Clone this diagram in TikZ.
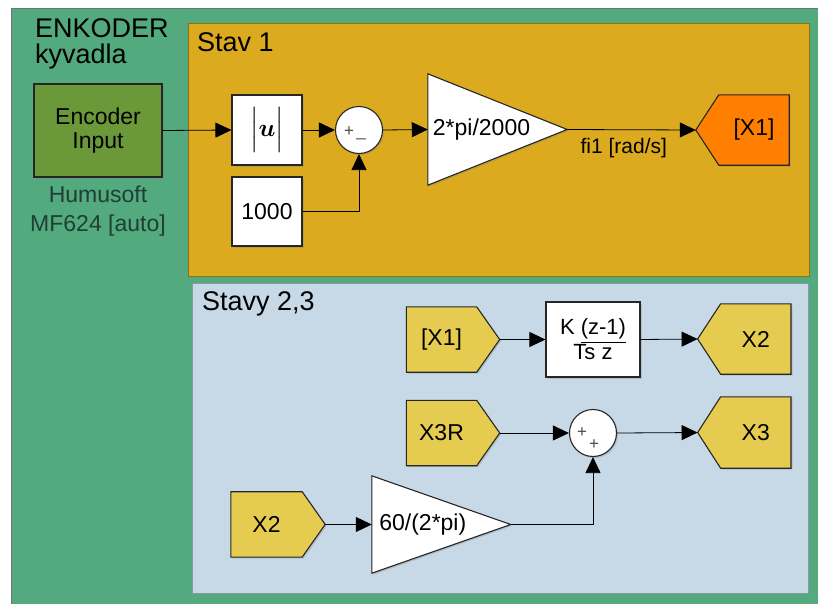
\documentclass[tikz,border=0pt]{standalone}
\usepackage{amsmath}
\usepackage{fontspec}
\setmainfont{Liberation Sans}
\usetikzlibrary{arrows.meta,shadows}
\definecolor{outergreen}{HTML}{53AA7F}
\definecolor{stavyellow}{HTML}{DCAA1E}
\definecolor{stavblue}{HTML}{C7D9E7}
\definecolor{fromyellow}{HTML}{E5CC50}
\definecolor{encgreen}{HTML}{6B9839}
\definecolor{gotoorange}{HTML}{FF8000}
\definecolor{humtext}{HTML}{1F3F32}
\pgfdeclarelayer{bgzero}
\pgfdeclarelayer{bgone}
\pgfsetlayers{bgzero,bgone,main}
\tikzset{
  blk/.style={inner sep=0pt, font=\fontsize{23}{25}\selectfont},
  rectblk/.style={blk, draw=black!85, line width=1.1pt, fill=white,
    drop shadow={shadow xshift=1.5pt, shadow yshift=-1.5pt, opacity=0.3}},
  sumblk/.style={circle, inner sep=0pt, minimum size=47pt, draw=black!85, line width=1.1pt, fill=white,
    drop shadow={shadow xshift=1.5pt, shadow yshift=-1.5pt, opacity=0.3}},
  shapeline/.style={draw=black!85, line width=1.1pt,
    drop shadow={shadow xshift=1.5pt, shadow yshift=-1.5pt, opacity=0.3}},
  sig/.style={line width=0.8pt, -{Triangle[length=16pt,width=15pt]}},
  sgn/.style={font=\fontsize{17}{17}\selectfont, text=black!70, inner sep=0pt},
  title/.style={font=\fontsize{27}{27}\selectfont, inner sep=0pt},
}
\newcommand{\fromshape}[2]{\filldraw[shapeline, fill=#2] (#1.north west) -- ([xshift=-23pt]#1.north east) -- (#1.east) -- ([xshift=-23pt]#1.south east) -- (#1.south west) -- cycle;}
\newcommand{\gotoshape}[2]{\filldraw[shapeline, fill=#2] (#1.west) -- ([xshift=23pt]#1.north west) -- (#1.north east) -- (#1.south east) -- ([xshift=23pt]#1.south west) -- cycle;}
\newcommand{\gainshape}[1]{\filldraw[shapeline, fill=white] (#1.north west) -- (#1.east) -- (#1.south west) -- cycle;}
\begin{document}
\begin{tikzpicture}[x=1pt,y=-1pt]
\useasboundingbox (0,0) rectangle (818,603);
\begin{pgfonlayer}{bgzero}
  \fill[white] (0,0) rectangle (818,603);
  \filldraw[fill=outergreen, draw=black!55, line width=1pt] (11,8) rectangle (830,615);
  \filldraw[fill=stavyellow, draw=black!35!stavyellow, line width=1pt] (188,23) rectangle (809,276);
  \filldraw[fill=stavblue, draw=black!30!stavblue, line width=1pt] (192,283) rectangle (808,593);
\end{pgfonlayer}

% titles
\node[title, anchor=base west] (tEnk) at (35,37) {ENKODER};
\node[title, anchor=base west] (tKyv) at (35,63) {kyvadla};
\node[title, anchor=base west] (tStav1) at (197,51) {Stav 1};
\node[title, anchor=base west] (tStavy) at (202,310) {Stavy 2,3};

% Stav 1
\node[rectblk, fill=encgreen, minimum width=128pt, minimum height=93pt, align=center,
      font=\fontsize{23}{24}\selectfont] (enc) at (98,130.5) {Encoder\\Input};
\node[blk, align=center, text=humtext, font=\fontsize{23}{29}\selectfont] (hum) at (98,211) {Humusoft\\MF624 [auto]};
\node[rectblk, minimum width=70pt, minimum height=70pt] (absu) at (267,130)
  {\fontsize{24}{24}\selectfont$\Bigl|\boldsymbol{u}\Bigr|$};
\node[rectblk, minimum width=70pt, minimum height=69pt] (c1000) at (267,211.5) {1000};
\node[sumblk] (sum1) at (359,130) {};
\node[sgn] (s1p) at (349,132) {+};
\node[sgn] (s1m) at (361,138) {\_};
\node[blk, minimum width=139pt, minimum height=111pt] (gain1) at (497.5,129.5) {\hspace*{-32pt}2*pi/2000};
\node[blk, minimum width=93pt, minimum height=70pt] (gotoX1) at (742.5,130) {[X1]\hspace*{-23pt}};

% Stavy 2,3
\node[blk, minimum width=93pt, minimum height=65pt] (fromX1) at (453,339.5) {\hspace*{-23pt}[X1]};
\node[rectblk, minimum width=94pt, minimum height=75pt, align=center,
      font=\fontsize{22}{19}\selectfont] (tf) at (593,339.5) {K \underline{(z-1)}\\Ts z};
\node[blk, minimum width=93pt, minimum height=70pt] (gotoX2) at (744.3,339) {X2\hspace*{-23pt}};
\node[blk, minimum width=93pt, minimum height=65pt] (fromX3R) at (453,433) {\hspace*{-23pt}X3R};
\node[sumblk] (sum2) at (593,433) {};
\node[sgn] (s2a) at (582,433) {+};
\node[sgn] (s2b) at (594,445) {+};
\node[blk, minimum width=93pt, minimum height=71pt] (gotoX3) at (744.3,432.5) {X3\hspace*{-23pt}};
\node[blk, minimum width=94pt, minimum height=65pt] (fromX2) at (278,524.4) {\hspace*{-23pt}X2};
\node[blk, minimum width=138.6pt, minimum height=97pt] (gain2) at (441.3,524.5) {\hspace*{-37pt}60/(2*pi)};

\begin{pgfonlayer}{bgone}
  \gainshape{gain1}
  \gainshape{gain2}
  \gotoshape{gotoX1}{gotoorange}
  \gotoshape{gotoX2}{fromyellow}
  \gotoshape{gotoX3}{fromyellow}
  \fromshape{fromX1}{fromyellow}
  \fromshape{fromX3R}{fromyellow}
  \fromshape{fromX2}{fromyellow}
\end{pgfonlayer}

% connectors
\draw[sig] (enc.east) -- (absu.west);
\draw[sig] (absu.east) -- (sum1.west);
\draw[sig] (c1000.east) -| (sum1.south);
\draw[sig] (sum1.east) -- (gain1.west);
\draw[sig] (gain1.east) -- node[pos=0.44, below=8pt, inner sep=0pt, font=\fontsize{21}{21}\selectfont] (lbl) {fi1 [rad/s]} (gotoX1.west);
\draw[sig] (fromX1.east) -- (tf.west);
\draw[sig] (tf.east) -- (gotoX2.west);
\draw[sig] (fromX3R.east) -- (sum2.west);
\draw[sig] (sum2.east) -- (gotoX3.west);
\draw[sig] (fromX2.east) -- (gain2.west);
\draw[sig] (gain2.east) -| (sum2.south);
\end{tikzpicture}
\end{document}
